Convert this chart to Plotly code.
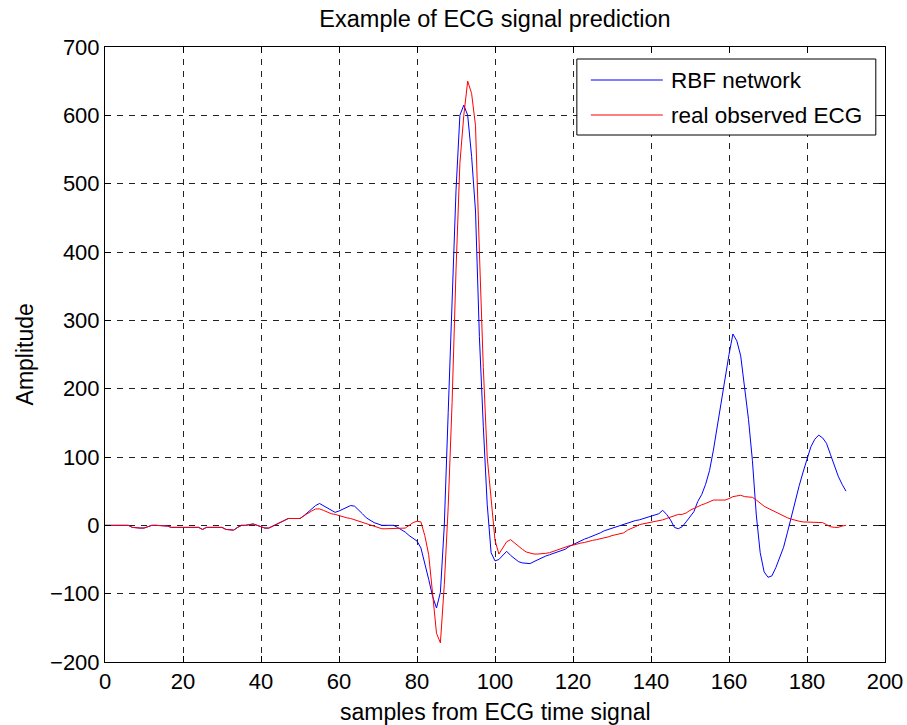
import plotly.graph_objects as go

# ---------------- data ----------------
samples = list(range(0, 191))

rbf_network = [
    0, 0, 0, 0, 0, 0, 0, -3, -4, -4,          # 0-9
    -4, -2, 0, 0, 0, 0, -1, -3, -3, -3,       # 10-19
    -3, -3, -3, -3, -3, -6, -3, -3, -3, -3,   # 20-29
    -3, -6, -7, -7, -3, 0, 0, 1, 2, 0,        # 30-39
    -2, -4, -4, -1, 2, 5, 8, 10, 10, 10,      # 40-49
    10, 14, 19, 24, 29, 32, 29, 26, 22, 19,   # 50-59
    21, 24, 27, 29, 28, 23, 17, 11, 7, 4,     # 60-69
    2, 0, 0, 0, 0, -3, -6, -10, -15, -19,     # 70-79
    -23, -33, -55, -79, -104, -121, -98, 0, 165, 330,   # 80-89
    490, 600, 615, 600, 540, 460, 276, 145, 31, -40,    # 90-99
    -52, -50, -44, -38, -44, -49, -53, -55, -56, -56,   # 100-109
    -53, -50, -47, -45, -43, -41, -39, -38, -35, -31,   # 110-119
    -28, -25, -22, -20, -18, -16, -14, -11, -8, -6,     # 120-129
    -5, -3, 0, 2, 4, 5, 7, 8, 10, 11,                   # 130-139
    13, 15, 17, 22, 16, 8, -3, -5, -2, 5,               # 140-149
    12, 20, 35, 45, 60, 80, 110, 145, 183, 215,         # 150-159
    250, 280, 270, 248, 200, 155, 95, 15, -40, -68,     # 160-169
    -76, -74, -62, -47, -32, -10, 14, 37, 58, 78,       # 170-179
    98, 115, 126, 132, 128, 120, 104, 88, 72, 60,       # 180-189
    50,                                                  # 190
]

real_ecg = [
    0, 0, 0, 0, 0, 0, 0, -3, -4, -4,          # 0-9
    -4, -2, 0, 0, 0, 0, -1, -3, -3, -3,       # 10-19
    -3, -3, -3, -3, -3, -6, -3, -3, -3, -3,   # 20-29
    -3, -6, -7, -7, -3, 0, 0, 1, 2, 0,        # 30-39
    -2, -4, -4, -1, 2, 5, 8, 10, 10, 10,      # 40-49
    10, 14, 18, 21, 24, 24, 22, 19, 17, 16,   # 50-59
    14, 12, 11, 10, 8, 6, 4, 3, 1, -2,        # 60-69
    -4, -5, -5, -5, -5, -5, -5, -4, 0, 4,     # 70-79
    6, 5, -15, -43, -100, -158, -172, -87, 27, 180,     # 80-89
    373, 530, 600, 650, 632, 585, 400, 231, 100, 35,    # 90-99
    -22, -42, -32, -24, -21, -26, -31, -35, -39, -41,   # 100-109
    -42, -42, -42, -41, -40, -38, -36, -33, -31, -30,   # 110-119
    -29, -27, -26, -25, -23, -22, -21, -20, -18, -17,   # 120-129
    -15, -14, -12, -11, -7, -5, -2, 1, 2, 3,            # 130-139
    4, 5, 6, 8, 10, 12, 14, 16, 16, 18,                 # 140-149
    22, 25, 27, 30, 32, 34, 37, 37, 37, 37,             # 150-159
    39, 42, 43, 44, 42, 41, 41, 37, 32, 28,             # 160-169
    25, 22, 19, 16, 13, 11, 9, 7, 6, 5,                 # 170-179
    5, 5, 5, 5, 4, 1, -2, -3, -3, -1,                   # 180-189
    0,                                                   # 190
]

series_names = ["RBF network", "real observed ECG"]
series_colors = ["#0000FF", "#FF0000"]

x_ticks = [0, 20, 40, 60, 80, 100, 120, 140, 160, 180, 200]
y_ticks = [-200, -100, 0, 100, 200, 300, 400, 500, 600, 700]

title_text = "Example of ECG signal prediction"
x_label = "samples from ECG time signal"
y_label = "Amplitude"

# ---------------- figure ----------------
FONT = "Liberation Sans, Arial, Helvetica, sans-serif"
KX = 915 / 907               # horizontal compensation observed in the capture
W, H = 915, 725
ML, MR, MT, MB = round(104 * KX), W - round(884 * KX), 47, 63
PW, PH = W - ML - MR, H - MT - MB

def px_to_paper(px, py):
    """target picture pixel position -> paper coordinates"""
    return (px * KX - ML) / PW, (H - MB - py) / PH

fig = go.Figure()
for name, vals, col in zip(series_names, [rbf_network, real_ecg], series_colors):
    fig.add_trace(go.Scatter(x=samples, y=vals, mode="lines", name=name,
                             line=dict(color=col, width=1), showlegend=False))

axis_common = dict(
    showline=True, linecolor="black", linewidth=1, mirror="ticks",
    ticks="inside", ticklen=6, tickcolor="black", tickwidth=1,
    showgrid=True, gridcolor="#222222", gridwidth=1, griddash="6px,6px",
    zeroline=False, tickfont=dict(family=FONT, size=22, color="black"),
)
fig.update_xaxes(range=[0, 200], tickvals=x_ticks, **axis_common)
fig.update_yaxes(range=[-200, 700], tickvals=y_ticks, **axis_common)

# manual legend (MATLAB style)
bx0, by0 = px_to_paper(576, 135)
bx1, by1 = px_to_paper(875, 59)
shapes = [dict(type="rect", xref="paper", yref="paper", x0=bx0, y0=by0, x1=bx1, y1=by1,
               line=dict(color="black", width=1), fillcolor="white", layer="above")]
annotations = []
rows_py = [80, 115]
for name, col, py in zip(series_names, series_colors, rows_py):
    lx0, ly = px_to_paper(590, py)
    lx1, _ = px_to_paper(662, py)
    shapes.append(dict(type="line", xref="paper", yref="paper", x0=lx0, x1=lx1, y0=ly, y1=ly,
                       line=dict(color=col, width=1), layer="above"))
    tx, _ = px_to_paper(668, py)
    annotations.append(dict(text=name, xref="paper", yref="paper", x=tx, y=ly,
                            xanchor="left", yanchor="middle", showarrow=False,
                            font=dict(family=FONT, size=22.5, color="black")))

# axis labels
_, xl_y = px_to_paper(0, 712)
yl_x, _ = px_to_paper(24, 0)
annotations.append(dict(text=x_label, xref="paper", yref="paper", x=0.5,
                        y=xl_y, xanchor="center", yanchor="middle",
                        showarrow=False, font=dict(family=FONT, size=23, color="black")))
annotations.append(dict(text=y_label, xref="paper", yref="paper", x=yl_x,
                        y=0.5, xanchor="center", yanchor="middle", textangle=-90,
                        showarrow=False, font=dict(family=FONT, size=23, color="black")))

fig.update_layout(
    width=W, height=H,
    margin=dict(l=ML, r=MR, t=MT, b=MB),
    paper_bgcolor="white", plot_bgcolor="white",
    title=dict(text=title_text, x=0.5, xref="paper", y=1 - 19 / H, yref="container",
               xanchor="center", yanchor="middle",
               font=dict(family=FONT, size=23.5, color="black")),
    shapes=shapes, annotations=annotations,
    showlegend=False,
)

# remove the default page margin so the figure fills the window exactly
fig.write_html(
    "out.html",
    config={"displayModeBar": False},
    post_script="document.body.style.margin='0';document.body.style.overflow='hidden';",
)
